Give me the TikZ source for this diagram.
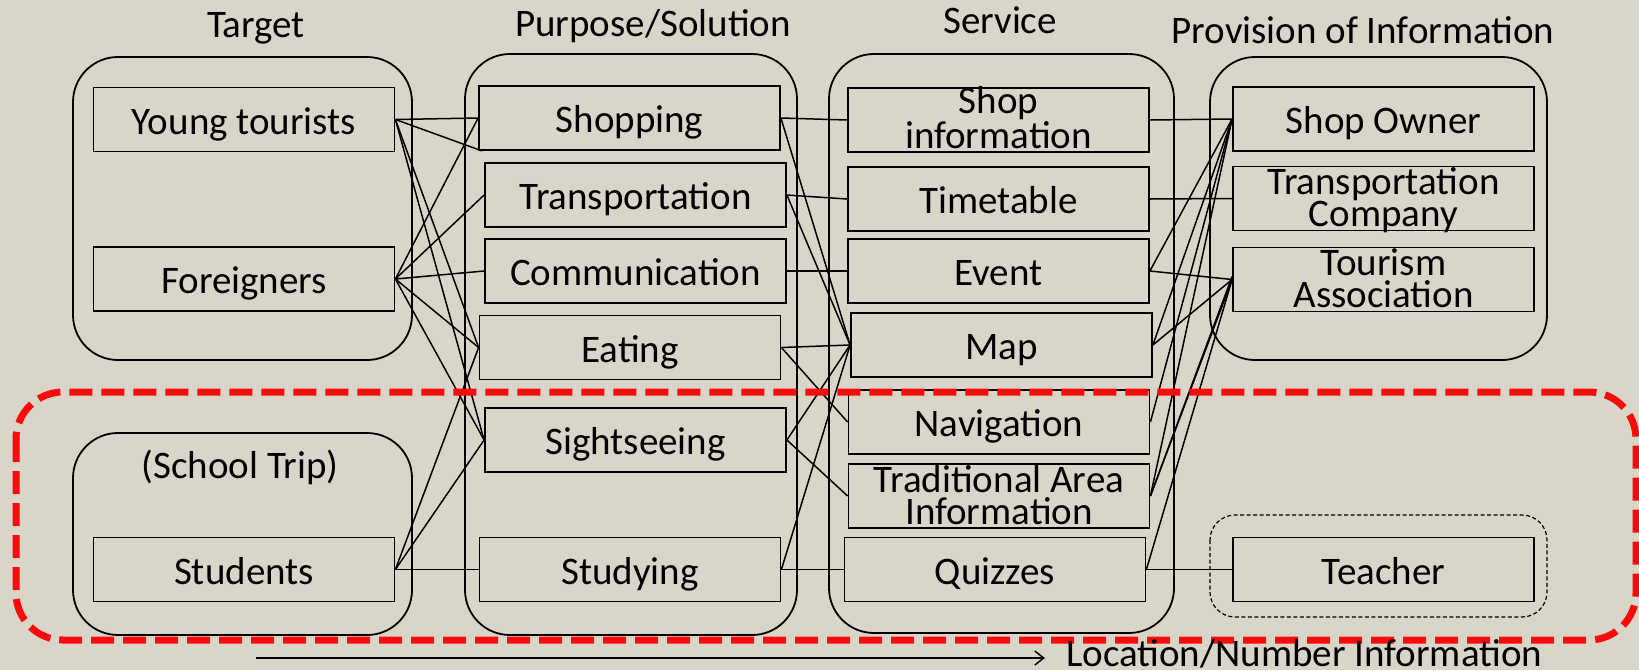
\documentclass[tikz,border=0pt]{standalone}
\usepackage{fontspec}
\setmainfont{Carlito}
\usetikzlibrary{arrows.meta}
\definecolor{bgc}{RGB}{217,214,201}
\definecolor{redd}{RGB}{250,10,10}
\begin{document}
\begin{tikzpicture}[x=1pt,y=-1pt,
  every node/.style={font=\fontsize{39}{32}\selectfont},
  box/.style={draw,line width=1.8pt,minimum width=301pt,minimum height=64pt,inner sep=0pt,align=center},
  sbox/.style={box,text height=37pt,text depth=8pt},
  tbox/.style={box,text height=59pt,text depth=3pt},
  cont/.style={draw,line width=1.8pt,rounded corners=45pt},
  link/.style={line width=1.5pt},
  hdr/.style={inner sep=0pt,anchor=base}]
\fill[bgc] (0,0) rectangle (1639,670);
\useasboundingbox (0,0) rectangle (1639,670);
% headers
\node[hdr] (h1) at (256,37) {Target};
\node[hdr] (h2) at (653,36) {Purpose/Solution};
\node[hdr] (h3) at (1000,33) {Service};
\node[hdr] (h4) at (1363,43) {Provision of Information};
% containers
\draw[cont] (73,57) rectangle (412,360);
\draw[cont] (73,433) rectangle (412,635);
\draw[cont] (465,54) rectangle (797,635);
\draw[cont] (829,54) rectangle (1174,633);
\draw[cont] (1210,57) rectangle (1547,360);
\draw[line width=1.2pt,dash pattern=on 4pt off 2.5pt,rounded corners=25pt] (1210,515) rectangle (1547,617);
\node[inner sep=0pt] (stt) at (240,467) {(School Trip)};
% column 1
\node[sbox] (yt) at (244,119.5) {Young tourists};
\node[sbox] (fo) at (244,279) {Foreigners};
\node[sbox] (st) at (244,569.5) {Students};
% column 2
\node[sbox] (shp) at (629.5,118) {Shopping};
\node[sbox] (trn) at (635.5,195) {Transportation};
\node[sbox] (com) at (635.5,271) {Communication};
\node[sbox] (eat) at (630,347.5) {Eating};
\node[sbox] (sig) at (635.5,440) {Sightseeing};
\node[sbox] (stu) at (630,569.5) {Studying};
% column 3
\node[tbox] (sinf) at (998.5,120) {Shop\\information};
\node[sbox] (tt) at (998.5,199) {Timetable};
\node[sbox] (ev) at (998.5,271) {Event};
\node[sbox] (map) at (1001.5,345) {Map};
\node[sbox] (nav) at (999,422) {Navigation};
\node[tbox] (tai) at (999,496) {Traditional Area\\Information};
\node[sbox] (qz) at (995,569.5) {Quizzes};
% column 4
\node[sbox] (so) at (1383.5,119) {Shop Owner};
\node[tbox] (tc) at (1383.5,198.5) {Transportation\\Company};
\node[tbox] (ta) at (1383.5,279.5) {Tourism\\Association};
\node[sbox] (te) at (1383.5,569.5) {Teacher};
% links target -> purpose
\draw[link] (yt.east) -- (shp.west);
\draw[link] (yt.east) -- ([xshift=4pt]shp.south west);
\draw[link] (yt.east) -- (eat.west);
\draw[link] (yt.east) -- (sig.west);
\draw[link] (fo.east) -- (shp.west);
\draw[link] (fo.east) -- (trn.west);
\draw[link] (fo.east) -- (com.west);
\draw[link] (fo.east) -- (eat.west);
\draw[link] (fo.east) -- (sig.west);
\draw[link] (st.east) -- (eat.west);
\draw[link] (st.east) -- (sig.west);
\draw[link] (st.east) -- (stu.west);
% purpose -> service
\draw[link] (shp.east) -- (sinf.west);
\draw[link] (shp.east) -- (map.west);
\draw[link] (trn.east) -- (tt.west);
\draw[link] (trn.east) -- (map.west);
\draw[link] (com.east) -- (ev.west);
\draw[link] (eat.east) -- (map.west);
\draw[link] (eat.east) -- (nav.west);
\draw[link] (sig.east) -- (map.west);
\draw[link] (sig.east) -- (tai.west);
\draw[link] (stu.east) -- (map.west);
\draw[link] (stu.east) -- (qz.west);
% service -> provision
\draw[link] (sinf.east) -- (so.west);
\draw[link] (tt.east) -- (tc.west);
\draw[link] (ev.east) -- (so.west);
\draw[link] (ev.east) -- (ta.west);
\draw[link] (map.east) -- (so.west);
\draw[link] (map.east) -- (ta.west);
\draw[link] (nav.east) -- (so.west);
\draw[link] (tai.east) -- (so.west);
\draw[link] (tai.east) -- (ta.west);
\draw[link] (tai.east) -- ([yshift=3pt]ta.west);
\draw[link] (qz.east) -- (ta.west);
\draw[link] (qz.east) -- (te.west);
% red dashed region
\draw[redd,line width=7pt,dash pattern=on 23pt off 9pt,rounded corners=47pt] (16,392) rectangle (1636,640);
% bottom arrow
\node[inner sep=0pt,anchor=base west] (loc) at (1066,666) {Location/Number Information};
\coordinate (as) at (256,658);
\coordinate (ae) at (1045,658);
\draw[line width=1.5pt,-{Straight Barb[length=9pt,width=14pt]}] (as) -- (ae);
\end{tikzpicture}
\end{document}
